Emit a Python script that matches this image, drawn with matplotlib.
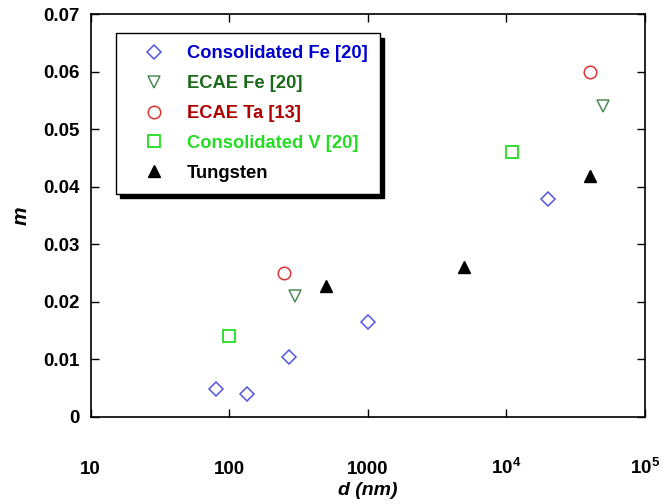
import matplotlib
matplotlib.use("Agg")
import matplotlib.pyplot as plt
from matplotlib.ticker import FixedLocator, NullLocator

plt.rcParams['font.family'] = ['Liberation Sans', 'DejaVu Sans']
plt.rcParams['mathtext.fontset'] = 'custom'
plt.rcParams['mathtext.bf'] = 'Liberation Sans:bold'
plt.rcParams['mathtext.rm'] = 'Liberation Sans:bold'

# data
fe_cons_d = [80, 135, 270, 1000, 20000]
fe_cons_m = [0.0049, 0.0040, 0.0104, 0.0165, 0.0379]
fe_ecae_d = [300, 50000]
fe_ecae_m = [0.0210, 0.0541]
ta_ecae_d = [250, 40000]
ta_ecae_m = [0.0250, 0.0600]
v_cons_d = [100, 11000]
v_cons_m = [0.0140, 0.0460]
w_d = [500, 5000, 40000]
w_m = [0.0227, 0.0260, 0.0418]

x_ticks = [10, 100, 1000, 1e4, 1e5]
x_labels = ['10', '100', '1000', r'$\mathbf{10^{4}}$', r'$\mathbf{10^{5}}$']
y_ticks = [0, 0.01, 0.02, 0.03, 0.04, 0.05, 0.06, 0.07]
y_labels = ['0', '0.01', '0.02', '0.03', '0.04', '0.05', '0.06', '0.07']

fig = plt.figure(figsize=(6.66, 5.04), dpi=100)
ax = fig.add_axes([0.136, 0.173, 0.832, 0.799])

ms = 9
ax.plot(fe_cons_d, fe_cons_m, 'D', ls='none', ms=7.5, mfc='none', mec='#5555dd', mew=1.1,
        label='Consolidated Fe [20]')
ax.plot(fe_ecae_d, fe_ecae_m, 'v', ls='none', ms=ms, mfc='none', mec='#4f8a55', mew=1.1,
        label='ECAE Fe [20]')
ax.plot(ta_ecae_d, ta_ecae_m, 'o', ls='none', ms=ms, mfc='none', mec='#dd3333', mew=1.1,
        label='ECAE Ta [13]')
ax.plot(v_cons_d, v_cons_m, 's', ls='none', ms=ms, mfc='none', mec='#22dd22', mew=1.3,
        label='Consolidated V [20]')
ax.plot(w_d, w_m, '^', ls='none', ms=ms, color='black', label='Tungsten')

ax.set_xscale('log')
ax.set_xlim(10, 1e5)
ax.set_ylim(0, 0.07)
ax.xaxis.set_major_locator(FixedLocator(x_ticks))
ax.xaxis.set_minor_locator(NullLocator())
ax.set_xticklabels(x_labels)
ax.set_yticks(y_ticks)
ax.set_yticklabels(y_labels)

ax.tick_params(direction='in', length=6, width=1, top=True, right=True,
               labelsize=13.5)
ax.tick_params(axis='x', pad=41)
ax.tick_params(axis='y', pad=8)
for lab in ax.get_xticklabels() + ax.get_yticklabels():
    lab.set_fontweight('bold')
# keep 10^4 / 10^5 on the same baseline as the plain labels
for lab in ax.get_xticklabels():
    lab.set_verticalalignment('baseline')
for sp in ax.spines.values():
    sp.set_linewidth(1.2)

ax.set_xlabel('d (nm)', fontsize=14, fontweight='bold', fontstyle='italic', labelpad=3)
ax.set_ylabel('m', fontsize=15, fontweight='bold', fontstyle='italic', labelpad=9)

leg = ax.legend(loc='upper left', bbox_to_anchor=(0.045, 0.952), fontsize=13.2,
                frameon=True, fancybox=False, edgecolor='black',
                shadow={'color': 'black', 'alpha': 1.0, 'ox': 3, 'oy': -3},
                borderpad=0.65, labelspacing=0.7, handletextpad=0.35,
                handlelength=2.9, borderaxespad=0)
leg.get_frame().set_linewidth(1.0)
text_colors = ['#0000cc', '#1a6a1a', '#b00000', '#22dd22', 'black']
for t, c in zip(leg.get_texts(), text_colors):
    t.set_color(c)
    t.set_fontweight('bold')

fig.savefig('out.png', dpi=100)
